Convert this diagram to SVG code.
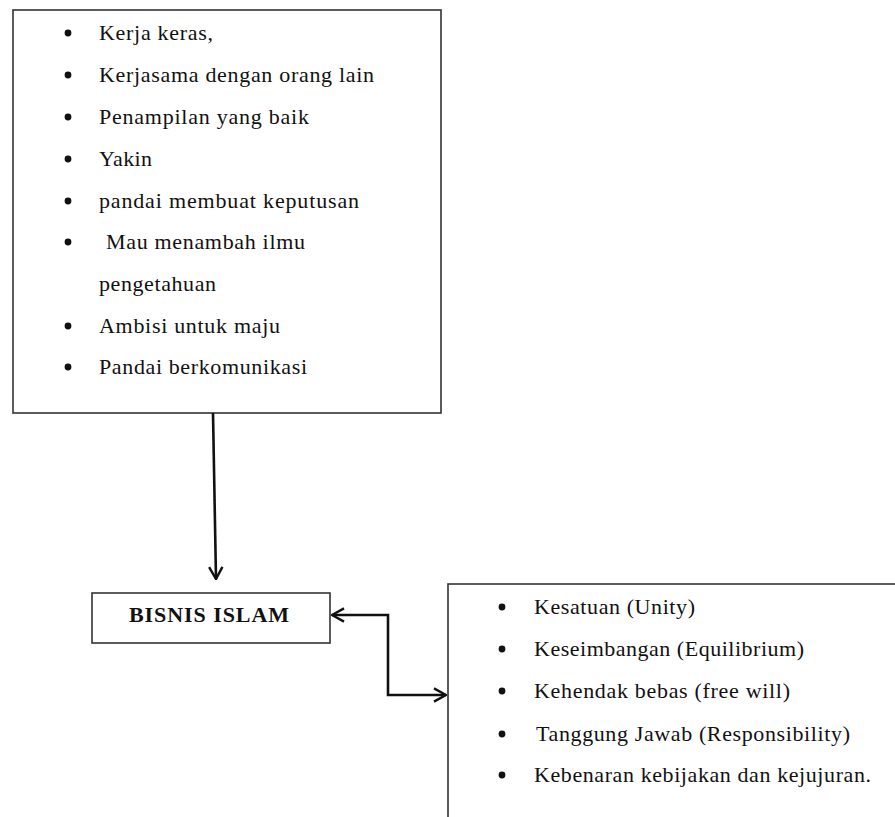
<svg xmlns="http://www.w3.org/2000/svg" width="895" height="817" viewBox="0 0 895 817">
<style>
.box{fill:#fff;stroke:#333;stroke-width:1.6}
.t{font-family:"Liberation Serif","Times New Roman",serif;font-size:22px;fill:#111}
.b{font-family:"Liberation Serif","Times New Roman",serif;font-size:22px;font-weight:bold;fill:#111}
.dot{fill:#111}
.con{fill:none;stroke:#111;stroke-width:2.6}
</style>
<defs>
<marker id="arr" viewBox="0 0 12 12" refX="11" refY="6" markerWidth="6" markerHeight="6" markerUnits="userSpaceOnUse" orient="auto">
<path d="M1,1 L11,6 L1,11" fill="none" stroke="#111" stroke-width="2.2"/>
</marker>
<marker id="arrs" viewBox="0 0 12 12" refX="11" refY="6" markerWidth="16" markerHeight="16" markerUnits="userSpaceOnUse" orient="auto-start-reverse">
<path d="M2,1 L11,6 L2,11" fill="none" stroke="#111" stroke-width="1.8"/>
</marker>
</defs>
<rect width="895" height="817" fill="#fff"/>
<g id="node-qualities">
<rect class="box" x="13" y="10" width="428" height="403"/>
<circle class="dot" cx="68" cy="33" r="3.4"/>
<circle class="dot" cx="68" cy="75" r="3.4"/>
<circle class="dot" cx="68" cy="117" r="3.4"/>
<circle class="dot" cx="68" cy="159" r="3.4"/>
<circle class="dot" cx="68" cy="201" r="3.4"/>
<circle class="dot" cx="68" cy="242" r="3.4"/>
<circle class="dot" cx="68" cy="326" r="3.4"/>
<circle class="dot" cx="68" cy="367" r="3.4"/>
<text class="t" x="99" y="40" textLength="114" lengthAdjust="spacing">Kerja keras,</text>
<text class="t" x="99" y="82" textLength="275" lengthAdjust="spacing">Kerjasama  dengan orang lain</text>
<text class="t" x="99" y="124" textLength="210" lengthAdjust="spacing">Penampilan  yang baik</text>
<text class="t" x="99" y="166" textLength="53" lengthAdjust="spacing">Yakin</text>
<text class="t" x="99" y="208" textLength="260" lengthAdjust="spacing">pandai  membuat  keputusan</text>
<text class="t" x="106" y="249" textLength="199" lengthAdjust="spacing">Mau menambah  ilmu</text>
<text class="t" x="99" y="291" textLength="117" lengthAdjust="spacing">pengetahuan</text>
<text class="t" x="99" y="333" textLength="181" lengthAdjust="spacing">Ambisi  untuk maju</text>
<text class="t" x="99" y="374" textLength="208" lengthAdjust="spacing">Pandai  berkomunikasi</text>
</g>
<g id="node-bisnis">
<rect class="box" x="92" y="593" width="238" height="50"/>
<text class="b" x="129" y="622" textLength="160" lengthAdjust="spacing">BISNIS ISLAM</text>
</g>
<g id="node-principles">
<rect class="box" x="448" y="584" width="470" height="260"/>
<circle class="dot" cx="502" cy="607" r="3.4"/>
<circle class="dot" cx="502" cy="649" r="3.4"/>
<circle class="dot" cx="502" cy="691" r="3.4"/>
<circle class="dot" cx="502" cy="734" r="3.4"/>
<circle class="dot" cx="502" cy="775" r="3.4"/>
<text class="t" x="534" y="614" textLength="161" lengthAdjust="spacing">Kesatuan  (Unity)</text>
<text class="t" x="534" y="656" textLength="270" lengthAdjust="spacing">Keseimbangan  (Equilibrium)</text>
<text class="t" x="534" y="698" textLength="256" lengthAdjust="spacing">Kehendak  bebas (free will)</text>
<text class="t" x="536" y="741" textLength="314" lengthAdjust="spacing">Tanggung Jawab (Responsibility)</text>
<text class="t" x="534" y="782" textLength="337" lengthAdjust="spacing">Kebenaran  kebijakan  dan kejujuran.</text>
</g>
<g id="connectors">
<path class="con" d="M213,413 L216,579" marker-end="url(#arrs)"/>
<path class="con" d="M332,615 L388,615 L388,695 L446,695" marker-start="url(#arrs)" marker-end="url(#arrs)"/>
</g>
</svg>
